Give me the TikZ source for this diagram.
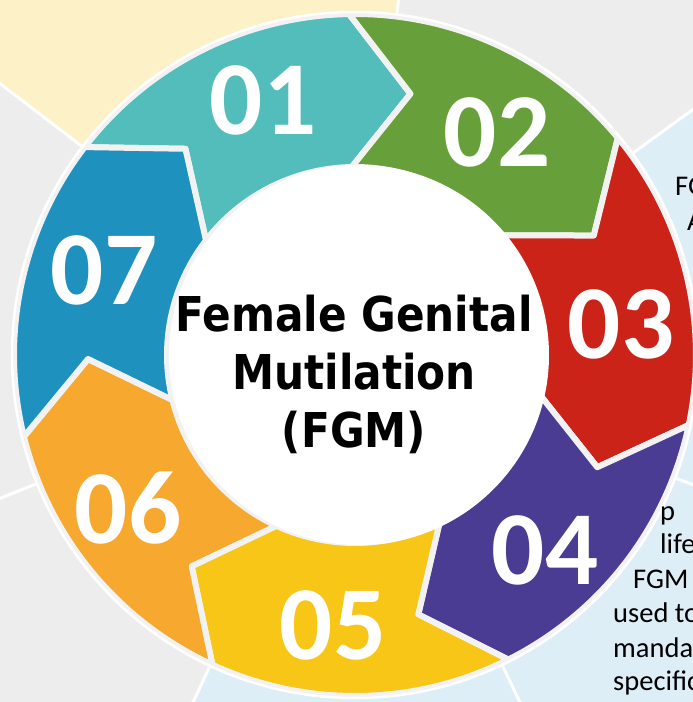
\documentclass[tikz,border=0pt]{standalone}
\usepackage{fontspec}
\setmainfont{Carlito}
\newfontfamily\hubfont[FakeStretch=0.88]{DejaVu Sans}
\definecolor{bggrey}{HTML}{EDEDED}
\definecolor{bgyellow}{HTML}{FDF2C7}
\definecolor{bgblue}{HTML}{DEEEF6}
\definecolor{gapgrey}{HTML}{F2F2F2}
\definecolor{segteal}{HTML}{52BDBA}
\definecolor{seggreen}{HTML}{67A03A}
\definecolor{segred}{HTML}{CB2318}
\definecolor{segpurple}{HTML}{4B3C93}
\definecolor{segyellow}{HTML}{F8C616}
\definecolor{segorange}{HTML}{F6A82F}
\definecolor{segblue}{HTML}{1F91BE}

\begin{document}
\begin{tikzpicture}[x=1pt,y=1pt,
    seg/.style={draw=gapgrey,line width=6pt,line join=round},
    num/.style={text=white,inner sep=0pt,font=\fontsize{105}{105}\selectfont\bfseries},
    side/.style={anchor=base west,inner sep=0pt,font=\fontsize{28.5}{32}\selectfont}]
    \useasboundingbox (-355,-347) rectangle (338,355);
    \clip (-355,-347) rectangle (338,355);
    % background panels
    \fill[bggrey] (-355,-347) rectangle (338,355);
    \fill[bgyellow] (0,0) -- (83:800) -- (142.6:800) -- cycle;
    \fill[bgblue] (0,0) -- (36:800) -- (-40:800) -- (-115:800) -- cycle;
    \foreach \a in {36,83,142.6,202,245,295.4,339}
        \draw[white,line width=3pt] (0,0) -- (\a:800);
    % ring of arrows
    \foreach \c [count=\i from 0] in {segteal,seggreen,segred,segpurple,segyellow,segorange,segblue} {
        \pgfmathsetmacro\a{142.43-\i*360/7}
        \pgfmathsetmacro\b{\a-360/7}
        \draw[seg,fill=\c] (\a:341) arc[start angle=\a,end angle=\b,radius=341]
            -- (\b-13:267) -- (\b:188) arc[start angle=\b,end angle=\a,radius=188]
            -- (\a-13:267) -- cycle;
    }
    \draw[white,line width=2.5pt] (0,0) circle (343);
    \node[circle,fill=white,minimum size=380pt,inner sep=0pt] (hub) at (4,0) {};
    \node[align=center,inner sep=0pt,font=\hubfont\bfseries\fontsize{48}{58}\selectfont] (fgm) at (-1,-19)
        {Female Genital\\Mutilation\\(FGM)};
    \node[num] (n01) at (-92,255) {01};
    \node[num] (n02) at (142,223) {02};
    \node[num] (n03) at (266,31) {03};
    \node[num] (n04) at (190,-195) {04};
    \node[num] (n05) at (-22,-270) {05};
    \node[num] (n06) at (-227,-153) {06};
    \node[num] (n07) at (-251,85) {07};
    % text of the next panels, cut by the edge
    \node[side] (t1) at (320,160) {FG};
    \node[side] (t2) at (332,125) {A};
    \node[side] (t3) at (305,-165) {p};
    \node[side] (t4) at (305,-198) {life};
    \node[side] (t5) at (278,-233) {FGM};
    \node[side] (t6) at (258,-267) {used to};
    \node[side] (t7) at (258,-302) {manda};
    \node[side] (t8) at (258,-335) {specific};
\end{tikzpicture}
\end{document}
